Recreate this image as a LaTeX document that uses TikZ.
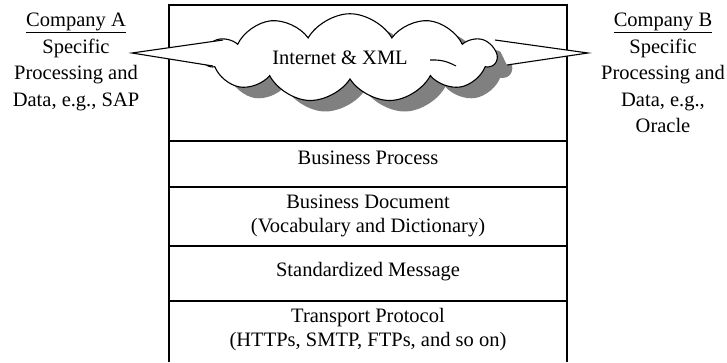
\documentclass[tikz,border=0pt]{standalone}
\usepackage{fontspec}
\setmainfont{Liberation Serif}
\usetikzlibrary{shapes.symbols,shadows,calc}
\tikzset{
  company/.style = {align=center, inner sep=0pt, font=\fontsize{20.5}{26.5}\selectfont},
  wedge/.style = {fill=white, draw=none},
}

\begin{document}
\begin{tikzpicture}[x=1pt, y=-1pt,
  layer/.style={align=center, inner sep=0pt, font=\fontsize{20.5}{24}\selectfont},
  frame/.style={line width=1.1pt},
  netcloud/.style={cloud, cloud puffs=11, cloud puff arc=120, aspect=4, draw,
    line width=1.1pt, fill=white, minimum width=292pt, minimum height=74pt,
    inner sep=0pt, font=\fontsize{20.5}{24}\selectfont,
    drop shadow={shadow xshift=15pt, shadow yshift=-11pt, fill=black!50, opacity=1}},
]
\useasboundingbox (0,0) rectangle (727,362);

% Stack frame
\draw[frame] (169,362) -- (169,5) -- (567,5) -- (567,362);
\foreach \y in {141,187,246,301}
  \draw[frame] (169,\y) -- (567,\y);

% Layers
\node[layer] (proc) at (368,158) {Business Process};
\node[layer] (doc) at (368,216) {Business Document\\(Vocabulary and Dictionary)};
\node[layer] (msg) at (368,272) {Standardized Message};
\node[layer] (trans) at (368,330) {Transport Protocol\\(HTTPs, SMTP, FTPs, and so on)};

% Cloud
\node[netcloud] (net) at (350,58) {\raisebox{-3pt}{Internet \& XML}\hspace*{20pt}};
\draw[frame] ($(net.center)+(80,2)$) to[bend left=15] ($(net.center)+(106,8)$);

% Companies
\node[company, anchor=north] (compA) at (76,13) {\underline{Company A}\\Specific\\Processing and\\Data, e.g., SAP};
\node[company, anchor=north] (compB) at (663,13) {\underline{Company B}\\Specific\\Processing and\\Data, e.g.,\\Oracle};

% Pointers
\coordinate (tipA) at (132,53);
\coordinate (tipB) at (588,53);
\coordinate (a1) at ($(net.center)+(-127,-18)$);
\coordinate (a2) at ($(net.center)+(-137,8)$);
\coordinate (b1) at ($(net.center)+(145,-18)$);
\coordinate (b2) at ($(net.center)+(157,7)$);
\path[wedge] (a1) -- (tipA) -- (a2) -- cycle;
\path[wedge] (b1) -- (tipB) -- (b2) -- cycle;
\draw[frame] (a1) -- (tipA) -- (a2);
\draw[frame] (b1) -- (tipB) -- (b2);

\end{tikzpicture}
\end{document}
